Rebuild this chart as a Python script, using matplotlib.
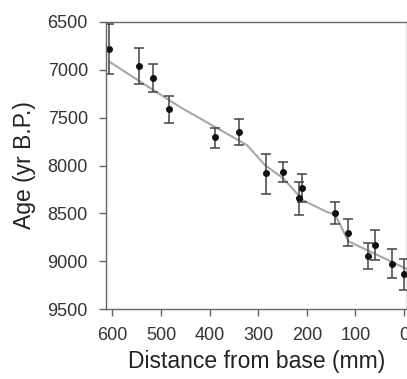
import numpy as np
import matplotlib
matplotlib.use('Agg')
import matplotlib.pyplot as plt

plt.rcParams['font.family'] = ['Liberation Sans', 'DejaVu Sans']

# dated samples: distance from base (mm), age (yr B.P.), error (yr)
dist = [606, 545, 517, 484, 389, 339, 284, 249, 217, 210, 143, 115, 75, 59, 25, 1]
age = [6785, 6957, 7082, 7413, 7703, 7654, 8083, 8066, 8344, 8233, 8501, 8704, 8948, 8836, 9028, 9139]
err_lo = [265, 180, 145, 140, 100, 135, 200, 100, 175, 145, 115, 145, 135, 165, 150, 165]
err_hi = [260, 190, 145, 145, 110, 135, 210, 105, 175, 145, 110, 135, 130, 155, 145, 165]

# age-depth model line
model_dist = [606, 516, 457, 323, 286, 249, 208, 158, 142, 115, 2, -6]
model_age = [6915, 7211, 7400, 7787, 7996, 8132, 8362, 8488, 8508, 8791, 9063, 9083]

fig = plt.figure(figsize=(4.07, 3.79), dpi=100)
ax = fig.add_axes([106 / 407, 70 / 379, 300.5 / 407, 287 / 379])

ax.plot(model_dist, model_age, color='#a8a8a8', lw=1.5, zorder=1)
ax.errorbar(dist, age, yerr=[err_lo, err_hi], fmt='o', color='#111111',
            ms=4, ecolor='#444444', elinewidth=1.1, capsize=3.5, capthick=1.1, zorder=2)

ax.set_xlim(613, -5)
ax.set_ylim(9500, 6500)
ax.set_xticks([600, 500, 400, 300, 200, 100, 0])
ax.set_yticks([6500, 7000, 7500, 8000, 8500, 9000, 9500])

for s in ax.spines.values():
    s.set_color('#666666')
    s.set_linewidth(1.0)
ax.tick_params(direction='out', length=5, width=1.0, color='#666666',
               labelsize=13, labelcolor='#333333', pad=8)

ax.set_xlabel('Distance from base (mm)', fontsize=16.5, color='#222222', labelpad=4)
ax.set_ylabel('Age (yr B.P.)', fontsize=16.5, color='#222222', labelpad=8)

fig.savefig('out.png', dpi=100)
